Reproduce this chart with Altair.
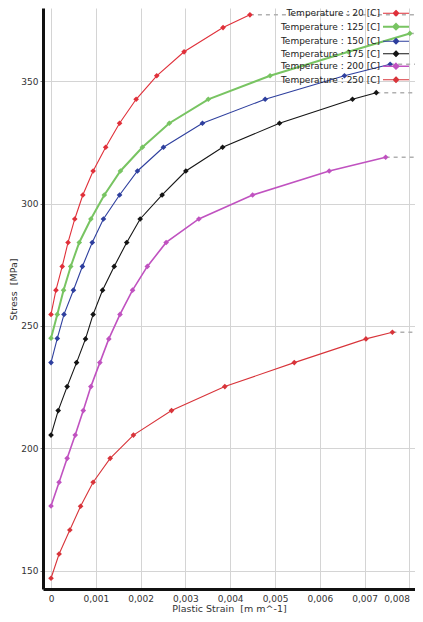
import altair as alt
import pandas as pd

series_labels = [
    "Temperature : 20 [C]",
    "Temperature : 125 [C]",
    "Temperature : 150 [C]",
    "Temperature : 175 [C]",
    "Temperature : 200 [C]",
    "Temperature : 250 [C]",
]
series_colors = ["#e0303a", "#78c462", "#2e3f9e", "#151515", "#c052c0", "#d8343a"]
series_widths = [1.1, 2.0, 1.1, 1.1, 1.6, 1.1]

strain_20 = [0, 0.00011, 0.00025, 0.00038, 0.00053, 0.00071, 0.00094, 0.00122, 0.00153, 0.0019, 0.00236, 0.00297, 0.00384, 0.00444]
stress_20 = [254.7, 264.6, 274.3, 284.1, 293.7, 303.5, 313.3, 323.0, 332.8, 342.6, 352.2, 362.0, 371.9, 377.1]

strain_125 = [0, 0.00014, 0.00028, 0.00044, 0.00063, 0.00089, 0.00119, 0.00155, 0.00204, 0.00264, 0.00351, 0.00489, 0.00664, 0.00801]
stress_125 = [245.0, 254.7, 264.6, 274.3, 284.1, 293.7, 303.5, 313.3, 323.0, 332.8, 342.6, 352.2, 362.0, 369.5]

strain_150 = [0, 0.00014, 0.00029, 0.0005, 0.0007, 0.00092, 0.00117, 0.00153, 0.00193, 0.00251, 0.00338, 0.00478, 0.00655, 0.00757]
stress_150 = [235.0, 244.9, 254.7, 264.6, 274.3, 284.1, 293.7, 303.5, 313.3, 323.0, 332.8, 342.6, 352.2, 356.9]

strain_175 = [0, 0.00016, 0.00036, 0.00057, 0.00077, 0.00094, 0.00115, 0.00141, 0.00169, 0.00199, 0.00248, 0.00301, 0.00383, 0.0051, 0.00673, 0.00726]
stress_175 = [205.4, 215.4, 225.2, 235.0, 244.7, 254.7, 264.6, 274.3, 284.1, 293.7, 303.5, 313.3, 323.0, 332.8, 342.6, 345.3]

strain_200 = [0, 0.00018, 0.00036, 0.00054, 0.00072, 0.00089, 0.00109, 0.00129, 0.00154, 0.00182, 0.00215, 0.00257, 0.0033, 0.0045, 0.00621, 0.00747]
stress_200 = [176.4, 186.1, 195.9, 205.4, 215.4, 225.2, 235.0, 244.7, 254.7, 264.6, 274.3, 284.1, 293.7, 303.5, 313.3, 318.9]

strain_250 = [0, 0.00018, 0.00042, 0.00066, 0.00094, 0.00132, 0.00184, 0.00269, 0.00388, 0.00543, 0.00703, 0.00762]
stress_250 = [146.9, 156.8, 166.6, 176.3, 186.1, 195.9, 205.4, 215.4, 225.2, 235.0, 244.7, 247.4]

x_ticks = [0, 0.001, 0.002, 0.003, 0.004, 0.005, 0.006, 0.007, 0.008]
y_ticks = [150, 200, 250, 300, 350]
x_domain = [-0.000179, 0.008125]
y_domain = [142.5, 379.9]

all_strain = [strain_20, strain_125, strain_150, strain_175, strain_200, strain_250]
all_stress = [stress_20, stress_125, stress_150, stress_175, stress_200, stress_250]

rows = []
ends = []
for lab, xs, ys in zip(series_labels, all_strain, all_stress):
    for i, (a, b) in enumerate(zip(xs, ys)):
        rows.append({"series": lab, "strain": a, "stress": b, "order": i})
    ends.append({"series": lab, "strain": xs[-1], "stress": ys[-1]})
df = pd.DataFrame(rows)
df_end = pd.DataFrame(ends)

FONT = "DejaVu Sans"

xscale = alt.Scale(domain=x_domain, nice=False, zero=False)
yscale = alt.Scale(domain=y_domain, nice=False, zero=False)

color = alt.Color(
    "series:N",
    scale=alt.Scale(domain=series_labels, range=series_colors),
    sort=series_labels,
    legend=alt.Legend(
        title=None,
        orient="none",
        legendX=347,
        legendY=-0.8,
        padding=0,
        symbolType="M-2.6,0H2.6M0,-0.55L0.55,0L0,0.55L-0.55,0Z",
        symbolSize=100,
        symbolStrokeWidth=2,
        labelAlign="right",
        labelOffset={"expr": "-22"},
        labelFontSize=9,
        labelFont=FONT,
        labelColor="#222222",
        rowPadding=1.5,
    ),
)

x_enc = alt.X(
    "strain:Q",
    scale=xscale,
    axis=alt.Axis(
        values=x_ticks,
        labelExpr="datum.value == 0 ? '0' : replace(format(datum.value, '.3f'), '.', ',')",
        labelAlign={
            "condition": {"test": "datum.value > 0.0075", "value": "right"},
            "value": "center",
        },
        title="Plastic Strain\u00a0 [m m^-1]",
        tickSize=0,
        labelPadding=5,
        titlePadding=0,
    ),
)
y_enc = alt.Y(
    "stress:Q",
    scale=yscale,
    axis=alt.Axis(
        values=y_ticks,
        title="Stress\u00a0 [MPa]",
        tickSize=3,
        labelPadding=2,
        titleX=-30,
        titleY=281,
        titleAngle=270,
        titleAlign="center",
        titleBaseline="middle",
    ),
)

rules = alt.Chart(df_end).mark_rule(
    color="#b0b0b0", strokeDash=[4, 4], strokeWidth=1.5, clip=True
).encode(
    x=alt.X("strain:Q", scale=xscale),
    x2=alt.datum(x_domain[1]),
    y=alt.Y("stress:Q", scale=yscale),
)

lines = alt.Chart(df).mark_line(
    clip=True,
    point=alt.OverlayMarkDef(shape="diamond", filled=True, size=32, opacity=1),
).encode(
    x=x_enc,
    y=y_enc,
    color=color,
    strokeWidth=alt.StrokeWidth(
        "series:N",
        scale=alt.Scale(type="ordinal", domain=series_labels, range=series_widths),
        legend=None,
    ),
    order="order:Q",
    detail="series:N",
)

chart = (
    alt.layer(rules, lines)
    .properties(
        width=372,
        height=581,
        autosize=alt.AutoSizeParams(type="none"),
        padding={"left": 35, "top": 0, "right": 0, "bottom": 25},
    )
    .configure_view(stroke=None)
    .configure_axis(
        domainColor="#111111",
        domainWidth=3,
        gridColor="#d4d4d4",
        gridWidth=1,
        tickColor="#888888",
        labelFont=FONT,
        labelFontSize=9,
        labelColor="#333333",
        titleFont=FONT,
        titleFontSize=9.5,
        titleFontWeight="normal",
        titleColor="#333333",
    )
)

chart.save("out.html", embed_options={"renderer": "svg", "actions": False})
